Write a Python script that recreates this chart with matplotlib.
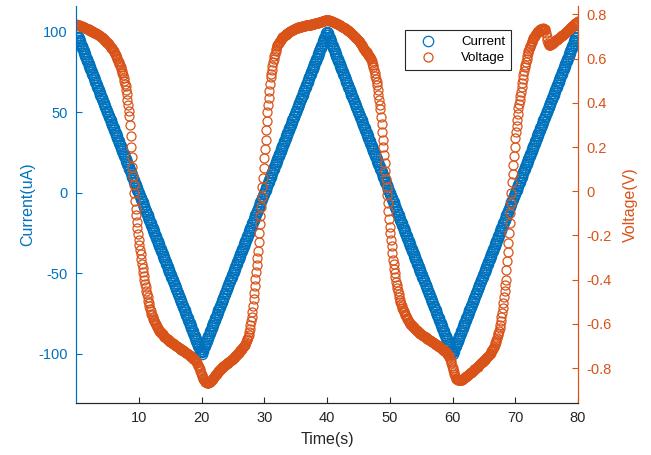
import numpy as np
import matplotlib
matplotlib.use("Agg")
import matplotlib.pyplot as plt

plt.rcParams['font.family'] = ['Liberation Sans', 'DejaVu Sans']
plt.rcParams['axes.unicode_minus'] = False

sample_step_s = 0.1

current_uA = [
    100, 99, 98, 97, 96, 95, 94, 93, 92, 91,
    90, 89, 88, 87, 86, 85, 84, 83, 82, 81,
    80, 79, 78, 77, 76, 75, 74, 73, 72, 71,
    70, 69, 68, 67, 66, 65, 64, 63, 62, 61,
    60, 59, 58, 57, 56, 55, 54, 53, 52, 51,
    50, 49, 48, 47, 46, 45, 44, 43, 42, 41,
    40, 39, 38, 37, 36, 35, 34, 33, 32, 31,
    30, 29, 28, 27, 26, 25, 24, 23, 22, 21,
    20, 19, 18, 17, 16, 15, 14, 13, 12, 11,
    10, 9, 8, 7, 6, 5, 4, 3, 2, 1,
    0, -1, -2, -3, -4, -5, -6, -7, -8, -9,
    -10, -11, -12, -13, -14, -15, -16, -17, -18, -19,
    -20, -21, -22, -23, -24, -25, -26, -27, -28, -29,
    -30, -31, -32, -33, -34, -35, -36, -37, -38, -39,
    -40, -41, -42, -43, -44, -45, -46, -47, -48, -49,
    -50, -51, -52, -53, -54, -55, -56, -57, -58, -59,
    -60, -61, -62, -63, -64, -65, -66, -67, -68, -69,
    -70, -71, -72, -73, -74, -75, -76, -77, -78, -79,
    -80, -81, -82, -83, -84, -85, -86, -87, -88, -89,
    -90, -91, -92, -93, -94, -95, -96, -97, -98, -99,
    -100, -99, -98, -97, -96, -95, -94, -93, -92, -91,
    -90, -89, -88, -87, -86, -85, -84, -83, -82, -81,
    -80, -79, -78, -77, -76, -75, -74, -73, -72, -71,
    -70, -69, -68, -67, -66, -65, -64, -63, -62, -61,
    -60, -59, -58, -57, -56, -55, -54, -53, -52, -51,
    -50, -49, -48, -47, -46, -45, -44, -43, -42, -41,
    -40, -39, -38, -37, -36, -35, -34, -33, -32, -31,
    -30, -29, -28, -27, -26, -25, -24, -23, -22, -21,
    -20, -19, -18, -17, -16, -15, -14, -13, -12, -11,
    -10, -9, -8, -7, -6, -5, -4, -3, -2, -1,
    0, 1, 2, 3, 4, 5, 6, 7, 8, 9,
    10, 11, 12, 13, 14, 15, 16, 17, 18, 19,
    20, 21, 22, 23, 24, 25, 26, 27, 28, 29,
    30, 31, 32, 33, 34, 35, 36, 37, 38, 39,
    40, 41, 42, 43, 44, 45, 46, 47, 48, 49,
    50, 51, 52, 53, 54, 55, 56, 57, 58, 59,
    60, 61, 62, 63, 64, 65, 66, 67, 68, 69,
    70, 71, 72, 73, 74, 75, 76, 77, 78, 79,
    80, 81, 82, 83, 84, 85, 86, 87, 88, 89,
    90, 91, 92, 93, 94, 95, 96, 97, 98, 99,
    100, 99, 98, 97, 96, 95, 94, 93, 92, 91,
    90, 89, 88, 87, 86, 85, 84, 83, 82, 81,
    80, 79, 78, 77, 76, 75, 74, 73, 72, 71,
    70, 69, 68, 67, 66, 65, 64, 63, 62, 61,
    60, 59, 58, 57, 56, 55, 54, 53, 52, 51,
    50, 49, 48, 47, 46, 45, 44, 43, 42, 41,
    40, 39, 38, 37, 36, 35, 34, 33, 32, 31,
    30, 29, 28, 27, 26, 25, 24, 23, 22, 21,
    20, 19, 18, 17, 16, 15, 14, 13, 12, 11,
    10, 9, 8, 7, 6, 5, 4, 3, 2, 1,
    0, -1, -2, -3, -4, -5, -6, -7, -8, -9,
    -10, -11, -12, -13, -14, -15, -16, -17, -18, -19,
    -20, -21, -22, -23, -24, -25, -26, -27, -28, -29,
    -30, -31, -32, -33, -34, -35, -36, -37, -38, -39,
    -40, -41, -42, -43, -44, -45, -46, -47, -48, -49,
    -50, -51, -52, -53, -54, -55, -56, -57, -58, -59,
    -60, -61, -62, -63, -64, -65, -66, -67, -68, -69,
    -70, -71, -72, -73, -74, -75, -76, -77, -78, -79,
    -80, -81, -82, -83, -84, -85, -86, -87, -88, -89,
    -90, -91, -92, -93, -94, -95, -96, -97, -98, -99,
    -100, -99, -98, -97, -96, -95, -94, -93, -92, -91,
    -90, -89, -88, -87, -86, -85, -84, -83, -82, -81,
    -80, -79, -78, -77, -76, -75, -74, -73, -72, -71,
    -70, -69, -68, -67, -66, -65, -64, -63, -62, -61,
    -60, -59, -58, -57, -56, -55, -54, -53, -52, -51,
    -50, -49, -48, -47, -46, -45, -44, -43, -42, -41,
    -40, -39, -38, -37, -36, -35, -34, -33, -32, -31,
    -30, -29, -28, -27, -26, -25, -24, -23, -22, -21,
    -20, -19, -18, -17, -16, -15, -14, -13, -12, -11,
    -10, -9, -8, -7, -6, -5, -4, -3, -2, -1,
    0, 1, 2, 3, 4, 5, 6, 7, 8, 9,
    10, 11, 12, 13, 14, 15, 16, 17, 18, 19,
    20, 21, 22, 23, 24, 25, 26, 27, 28, 29,
    30, 31, 32, 33, 34, 35, 36, 37, 38, 39,
    40, 41, 42, 43, 44, 45, 46, 47, 48, 49,
    50, 51, 52, 53, 54, 55, 56, 57, 58, 59,
    60, 61, 62, 63, 64, 65, 66, 67, 68, 69,
    70, 71, 72, 73, 74, 75, 76, 77, 78, 79,
    80, 81, 82, 83, 84, 85, 86, 87, 88, 89,
    90, 91, 92, 93, 94, 95, 96, 97, 98, 99,
    100,
]

voltage_V = [
    0.755, 0.754, 0.753, 0.752, 0.751, 0.750, 0.749, 0.748, 0.747, 0.746,
    0.745, 0.744, 0.742, 0.741, 0.740, 0.739, 0.737, 0.736, 0.735, 0.733,
    0.732, 0.730, 0.729, 0.727, 0.726, 0.724, 0.723, 0.721, 0.720, 0.718,
    0.717, 0.715, 0.714, 0.712, 0.710, 0.709, 0.707, 0.705, 0.703, 0.702,
    0.700, 0.698, 0.695, 0.692, 0.689, 0.686, 0.683, 0.680, 0.677, 0.675,
    0.672, 0.669, 0.665, 0.661, 0.658, 0.654, 0.650, 0.646, 0.643, 0.639,
    0.635, 0.629, 0.623, 0.617, 0.611, 0.605, 0.598, 0.591, 0.584, 0.577,
    0.570, 0.561, 0.552, 0.543, 0.534, 0.525, 0.513, 0.500, 0.487, 0.474,
    0.460, 0.438, 0.413, 0.389, 0.365, 0.340, 0.300, 0.250, 0.200, 0.155,
    0.110, 0.070, 0.030, -0.010, -0.045, -0.080, -0.108, -0.137, -0.165, -0.193,
    -0.220, -0.242, -0.264, -0.286, -0.308, -0.330, -0.348, -0.366, -0.384, -0.402,
    -0.420, -0.435, -0.450, -0.465, -0.480, -0.495, -0.507, -0.519, -0.531, -0.543,
    -0.555, -0.562, -0.569, -0.576, -0.583, -0.589, -0.595, -0.601, -0.607, -0.613,
    -0.620, -0.624, -0.628, -0.631, -0.635, -0.638, -0.641, -0.645, -0.648, -0.652,
    -0.655, -0.658, -0.660, -0.663, -0.665, -0.668, -0.670, -0.673, -0.675, -0.678,
    -0.680, -0.682, -0.684, -0.686, -0.688, -0.690, -0.692, -0.694, -0.696, -0.698,
    -0.700, -0.702, -0.704, -0.706, -0.708, -0.710, -0.712, -0.714, -0.716, -0.718,
    -0.720, -0.722, -0.724, -0.726, -0.728, -0.730, -0.732, -0.734, -0.736, -0.738,
    -0.740, -0.742, -0.745, -0.747, -0.750, -0.752, -0.755, -0.757, -0.760, -0.762,
    -0.765, -0.769, -0.773, -0.778, -0.784, -0.790, -0.797, -0.805, -0.813, -0.821,
    -0.830, -0.837, -0.844, -0.850, -0.855, -0.860, -0.862, -0.864, -0.865, -0.866,
    -0.866, -0.866, -0.865, -0.863, -0.861, -0.858, -0.855, -0.851, -0.848, -0.844,
    -0.840, -0.836, -0.832, -0.829, -0.825, -0.822, -0.818, -0.815, -0.811, -0.808,
    -0.805, -0.802, -0.800, -0.797, -0.795, -0.792, -0.790, -0.787, -0.785, -0.782,
    -0.780, -0.778, -0.775, -0.773, -0.771, -0.769, -0.766, -0.764, -0.762, -0.759,
    -0.757, -0.754, -0.751, -0.748, -0.745, -0.742, -0.740, -0.737, -0.734, -0.731,
    -0.728, -0.724, -0.720, -0.717, -0.713, -0.709, -0.705, -0.701, -0.698, -0.694,
    -0.690, -0.683, -0.675, -0.668, -0.660, -0.650, -0.637, -0.622, -0.605, -0.588,
    -0.570, -0.545, -0.517, -0.489, -0.460, -0.430, -0.399, -0.367, -0.335, -0.302,
    -0.270, -0.230, -0.190, -0.150, -0.110, -0.070, -0.026, 0.018, 0.062, 0.106,
    0.150, 0.192, 0.234, 0.276, 0.318, 0.360, 0.391, 0.422, 0.453, 0.484,
    0.515, 0.532, 0.549, 0.566, 0.583, 0.600, 0.611, 0.622, 0.633, 0.644,
    0.655, 0.660, 0.664, 0.669, 0.673, 0.678, 0.682, 0.687, 0.691, 0.696,
    0.700, 0.702, 0.704, 0.707, 0.709, 0.711, 0.713, 0.715, 0.718, 0.720,
    0.722, 0.724, 0.725, 0.727, 0.728, 0.730, 0.731, 0.733, 0.734, 0.736,
    0.737, 0.738, 0.739, 0.740, 0.741, 0.742, 0.742, 0.743, 0.744, 0.745,
    0.746, 0.747, 0.747, 0.748, 0.748, 0.749, 0.750, 0.750, 0.751, 0.751,
    0.752, 0.753, 0.753, 0.754, 0.754, 0.755, 0.756, 0.756, 0.757, 0.757,
    0.758, 0.759, 0.760, 0.760, 0.761, 0.762, 0.763, 0.764, 0.764, 0.765,
    0.766, 0.767, 0.768, 0.769, 0.770, 0.771, 0.772, 0.773, 0.774, 0.775,
    0.776, 0.775, 0.774, 0.773, 0.772, 0.771, 0.770, 0.769, 0.768, 0.767,
    0.766, 0.765, 0.763, 0.762, 0.760, 0.759, 0.758, 0.756, 0.755, 0.753,
    0.752, 0.750, 0.749, 0.747, 0.745, 0.744, 0.742, 0.740, 0.738, 0.737,
    0.735, 0.733, 0.731, 0.728, 0.726, 0.724, 0.721, 0.719, 0.717, 0.714,
    0.712, 0.709, 0.706, 0.703, 0.700, 0.697, 0.694, 0.691, 0.688, 0.685,
    0.682, 0.678, 0.674, 0.669, 0.665, 0.661, 0.657, 0.653, 0.648, 0.644,
    0.640, 0.636, 0.632, 0.628, 0.624, 0.620, 0.616, 0.612, 0.608, 0.604,
    0.600, 0.590, 0.580, 0.570, 0.560, 0.550, 0.536, 0.522, 0.508, 0.494,
    0.480, 0.458, 0.436, 0.414, 0.392, 0.370, 0.336, 0.302, 0.268, 0.234,
    0.200, 0.164, 0.128, 0.092, 0.056, 0.020, -0.016, -0.052, -0.088, -0.124,
    -0.160, -0.190, -0.220, -0.250, -0.280, -0.310, -0.330, -0.350, -0.370, -0.390,
    -0.410, -0.424, -0.438, -0.452, -0.466, -0.480, -0.490, -0.500, -0.510, -0.520,
    -0.530, -0.536, -0.542, -0.548, -0.554, -0.560, -0.566, -0.572, -0.578, -0.584,
    -0.590, -0.593, -0.596, -0.600, -0.603, -0.606, -0.609, -0.612, -0.616, -0.619,
    -0.622, -0.625, -0.627, -0.630, -0.632, -0.635, -0.637, -0.640, -0.642, -0.645,
    -0.647, -0.649, -0.651, -0.653, -0.655, -0.657, -0.659, -0.661, -0.663, -0.665,
    -0.667, -0.669, -0.671, -0.673, -0.675, -0.677, -0.678, -0.680, -0.682, -0.684,
    -0.686, -0.688, -0.690, -0.692, -0.694, -0.696, -0.697, -0.699, -0.701, -0.703,
    -0.705, -0.707, -0.710, -0.712, -0.714, -0.717, -0.719, -0.721, -0.724, -0.726,
    -0.728, -0.732, -0.736, -0.740, -0.745, -0.750, -0.759, -0.769, -0.779, -0.790,
    -0.800, -0.809, -0.818, -0.827, -0.836, -0.845, -0.848, -0.851, -0.853, -0.855,
    -0.856, -0.856, -0.855, -0.854, -0.853, -0.852, -0.850, -0.848, -0.846, -0.844,
    -0.842, -0.840, -0.838, -0.835, -0.833, -0.831, -0.829, -0.827, -0.824, -0.822,
    -0.820, -0.817, -0.815, -0.812, -0.809, -0.806, -0.804, -0.801, -0.798, -0.796,
    -0.793, -0.790, -0.787, -0.785, -0.782, -0.779, -0.776, -0.773, -0.771, -0.768,
    -0.765, -0.762, -0.759, -0.756, -0.753, -0.750, -0.747, -0.744, -0.741, -0.738,
    -0.735, -0.730, -0.725, -0.720, -0.715, -0.710, -0.703, -0.695, -0.688, -0.680,
    -0.672, -0.662, -0.652, -0.641, -0.631, -0.620, -0.603, -0.585, -0.567, -0.549,
    -0.530, -0.504, -0.478, -0.452, -0.426, -0.400, -0.358, -0.316, -0.274, -0.232,
    -0.190, -0.144, -0.098, -0.052, -0.006, 0.040, 0.080, 0.120, 0.160, 0.200,
    0.240, 0.267, 0.294, 0.321, 0.348, 0.375, 0.394, 0.413, 0.432, 0.451,
    0.470, 0.488, 0.506, 0.524, 0.542, 0.560, 0.573, 0.586, 0.599, 0.612,
    0.625, 0.634, 0.642, 0.651, 0.659, 0.668, 0.674, 0.681, 0.687, 0.694,
    0.700, 0.704, 0.708, 0.712, 0.716, 0.720, 0.722, 0.725, 0.727, 0.730,
    0.732, 0.733, 0.734, 0.735, 0.736, 0.737, 0.736, 0.734, 0.730, 0.718,
    0.700, 0.685, 0.670, 0.664, 0.660, 0.660, 0.662, 0.664, 0.667, 0.669,
    0.672, 0.674, 0.677, 0.679, 0.681, 0.683, 0.686, 0.688, 0.690, 0.693,
    0.695, 0.697, 0.700, 0.702, 0.704, 0.706, 0.709, 0.711, 0.713, 0.716,
    0.718, 0.721, 0.723, 0.726, 0.729, 0.731, 0.734, 0.737, 0.740, 0.742,
    0.745, 0.747, 0.750, 0.752, 0.754, 0.756, 0.759, 0.761, 0.763, 0.766,
    0.768,
]

time_s = np.arange(len(current_uA)) * sample_step_s

x_ticks = [10, 20, 30, 40, 50, 60, 70, 80]
left_ticks = [-100, -50, 0, 50, 100]
right_ticks = [-0.8, -0.6, -0.4, -0.2, 0, 0.2, 0.4, 0.6, 0.8]
right_tick_labels = ["-0.8", "-0.6", "-0.4", "-0.2", "0", "0.2", "0.4", "0.6", "0.8"]
series_names = ["Current", "Voltage"]
x_label = "Time(s)"
left_label = "Current(uA)"
right_label = "Voltage(V)"

# ---- styling ----
BLUE = (0.0, 0.447, 0.741)
ORANGE = (0.85, 0.325, 0.098)
DARK = (0.15, 0.15, 0.15)

fig = plt.figure(figsize=(6.51, 4.55), dpi=100)
ax = fig.add_axes([76 / 651, 52 / 455, 502 / 651, 397 / 455])
ax2 = ax.twinx()

l1, = ax.plot(time_s, current_uA, linestyle='none', marker='o', markersize=7.5,
              markerfacecolor='none', markeredgecolor=BLUE, markeredgewidth=0.9,
              label=series_names[0])
l2, = ax2.plot(time_s, voltage_V, linestyle='none', marker='o', markersize=6.5,
               markerfacecolor='none', markeredgecolor=ORANGE, markeredgewidth=0.9,
               label=series_names[1])

ax.set_xlim(0, 80)
ax.set_ylim(-130.5, 116)
ax2.set_ylim(-0.958, 0.838)

ax.set_xticks(x_ticks)
ax.set_yticks(left_ticks)
ax2.set_yticks(right_ticks)
ax2.set_yticklabels(right_tick_labels)

for a in (ax, ax2):
    a.spines['top'].set_visible(False)
    a.spines['bottom'].set_color(DARK)
    a.spines['left'].set_color(BLUE)
    a.spines['right'].set_color(ORANGE)
    for s in a.spines.values():
        s.set_linewidth(0.8)

ax.tick_params(axis='x', direction='in', length=4, width=0.8, colors=DARK,
               labelsize=10.5, pad=6, top=False)
ax.tick_params(axis='y', direction='in', length=4, width=0.8, colors=BLUE,
               labelsize=10.5, pad=6, right=False)
ax2.tick_params(axis='y', direction='in', length=4, width=0.8, colors=ORANGE,
                labelsize=10.5, pad=6, left=False)

ax.set_xlabel(x_label, fontsize=11.5, color=DARK, labelpad=5)
ax.set_ylabel(left_label, fontsize=11.5, color=BLUE, labelpad=2)
ax2.set_ylabel(right_label, fontsize=11.5, color=ORANGE, labelpad=8, rotation=90)

leg = ax2.legend(handles=[l1, l2], loc='upper left',
                 bbox_to_anchor=((405 - 76) / 502, (403 - 30) / 397),
                 frameon=True, fancybox=False, fontsize=9.5,
                 borderpad=0.45, handletextpad=1.2, labelspacing=0.3,
                 handlelength=2.6, borderaxespad=0)
leg.get_frame().set_edgecolor(DARK)
leg.get_frame().set_linewidth(0.8)
leg.get_frame().set_alpha(1)
for t in leg.get_texts():
    t.set_color('black')

fig.savefig("out.png", dpi=100)
